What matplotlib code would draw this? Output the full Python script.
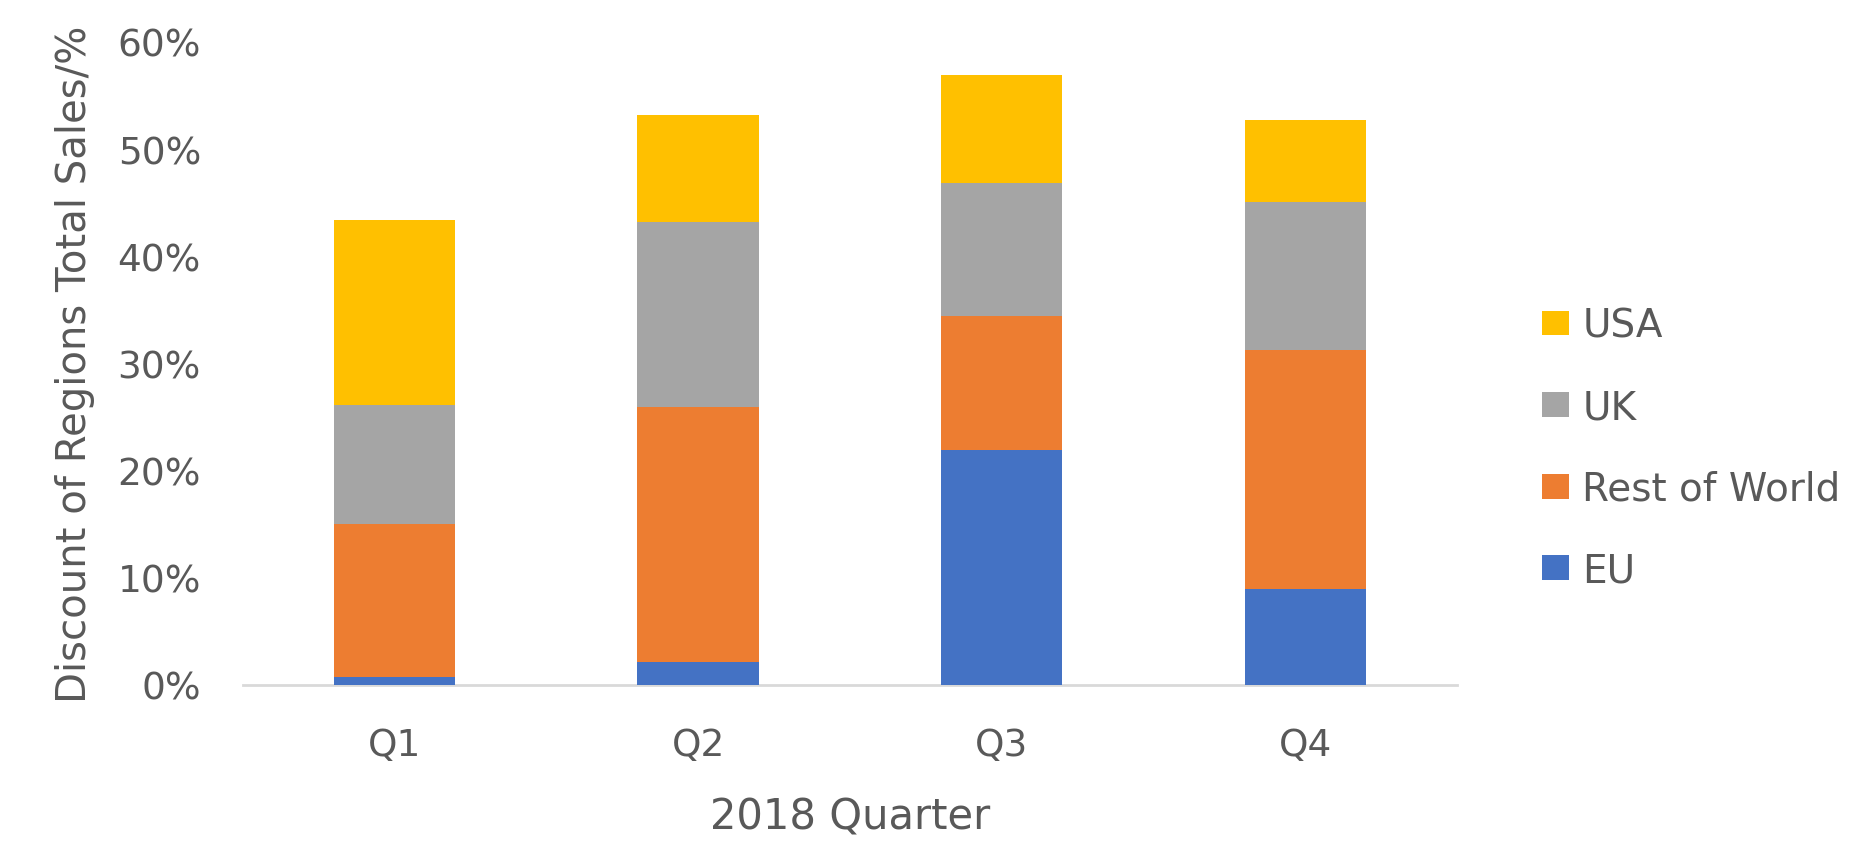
import matplotlib
matplotlib.use("Agg")
import matplotlib.pyplot as plt
import numpy as np
from matplotlib.ticker import PercentFormatter

# data (percent of total sales)
quarters = ["Q1", "Q2", "Q3", "Q4"]
eu = [0.7, 2.1, 21.9, 9.0]
rest_of_world = [14.3, 23.8, 12.5, 22.3]
uk = [11.1, 17.3, 12.4, 13.8]
usa = [17.3, 10.0, 10.1, 7.6]

series_names = ["EU", "Rest of World", "UK", "USA"]
series_colors = ["#4472C4", "#ED7D31", "#A5A5A5", "#FFC000"]

text_col = "#595959"
plt.rcParams["font.family"] = "DejaVu Sans"

fig = plt.figure(figsize=(18.67, 8.53), dpi=100)
ax = fig.add_axes([0.1300, 0.1958, 0.6504, 0.7538])

x = np.arange(len(quarters))
bottom = np.zeros(len(quarters))
handles = []
for name, vals, col in zip(series_names, [eu, rest_of_world, uk, usa], series_colors):
    b = ax.bar(x, vals, width=0.4, bottom=bottom, color=col, label=name, zorder=3)
    handles.append(b)
    bottom += np.array(vals)

ax.set_xlim(-0.5, len(quarters) - 0.5)
ax.set_ylim(0, 60)
ax.set_yticks(np.arange(0, 61, 10))
ax.yaxis.set_major_formatter(PercentFormatter(decimals=0))
ax.set_xticks(x)
ax.set_xticklabels(quarters)

for s in ["top", "right", "left"]:
    ax.spines[s].set_visible(False)
ax.spines["bottom"].set_color("#D9D9D9")
ax.spines["bottom"].set_linewidth(2)

ax.tick_params(axis="y", length=0, pad=30, labelsize=27, labelcolor=text_col)
ax.tick_params(axis="x", length=0, pad=30, labelsize=27, labelcolor=text_col)

ax.set_xlabel("2018 Quarter", fontsize=30, color=text_col, labelpad=24)
ax.set_ylabel("Discount of Regions Total Sales/%", fontsize=29, color=text_col,
              labelpad=16)

leg = fig.legend(handles[::-1], series_names[::-1], loc="center left",
                 bbox_to_anchor=(0.826, 0.4735), frameon=False, fontsize=28,
                 borderpad=0, borderaxespad=0, labelspacing=1.12,
                 handlelength=0.68, handleheight=0.6, handletextpad=0.35)
for t in leg.get_texts():
    t.set_color(text_col)

fig.savefig("out.png", dpi=100)
